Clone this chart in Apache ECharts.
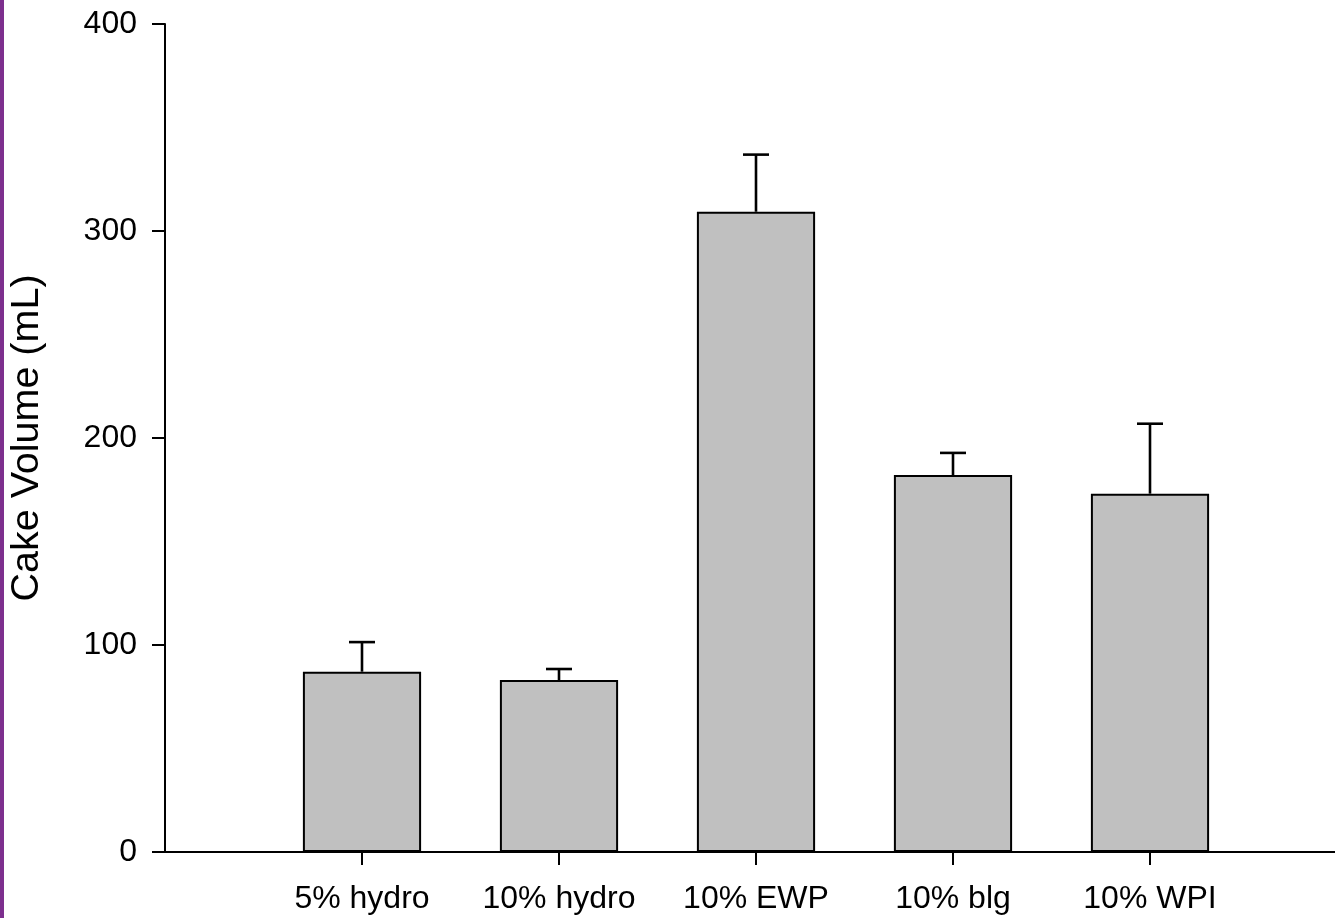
<!DOCTYPE html>
<html>
<head>
<meta charset="utf-8">
<script src="https://cdn.jsdelivr.net/npm/echarts@6/dist/echarts.min.js"></script>
<style>
html,body{margin:0;padding:0;background:#fff;}
#chart{width:1335px;height:918px;}
</style>
</head>
<body>
<div id="chart"></div>
<script>
const categories = ['5% hydro', '10% hydro', '10% EWP', '10% blg', '10% WPI'];
const means = [87.1, 83.1, 309.3, 182.1, 173.1];
const errors = [14.3, 5.3, 27.6, 10.7, 33.8];
const yTicks = [0, 100, 200, 300, 400];
const yTitle = 'Cake Volume (mL)';

// padded category list: empty slot at each end
const axisCats = [''].concat(categories, [' ']);
const barData = [null].concat(means, [null]);
const errData = categories.map((c, i) => [i + 1, means[i], means[i] + errors[i]]);

const font = 'Arial, "Liberation Sans", sans-serif';
const chart = echarts.init(document.getElementById('chart'), null, {renderer: 'canvas'});
chart.setOption({
  animation: false,
  backgroundColor: '#fff',
  graphic: [{
    type: 'rect', left: 0, top: 0, z: 100,
    shape: {x: 0, y: 0, width: 4, height: 918},
    style: {fill: '#7D2F8E'}
  }],
  grid: {left: 165, right: -12, top: 24, bottom: 66, containLabel: false, outerBoundsMode: 'none'},
  xAxis: {
    type: 'category',
    data: axisCats,
    boundaryGap: false,
    axisLine: {lineStyle: {color: '#000', width: 2}},
    axisTick: {
      length: 13, lineStyle: {color: '#000', width: 2},
      interval: function (idx, val) { return idx > 0 && idx < axisCats.length - 1; }
    },
    axisLabel: {color: '#000', fontSize: 32, fontFamily: font, margin: 31, interval: 0},
    splitLine: {show: false}
  },
  yAxis: {
    type: 'value',
    min: yTicks[0], max: yTicks[yTicks.length - 1], interval: 100,
    name: yTitle,
    nameLocation: 'middle',
    nameGap: 118,
    nameTextStyle: {color: '#000', fontSize: 39.5, fontFamily: font},
    axisLine: {show: true, lineStyle: {color: '#000', width: 2}},
    axisTick: {show: true, length: 13, lineStyle: {color: '#000', width: 2}},
    axisLabel: {color: '#000', fontSize: 32, fontFamily: font, margin: 28},
    splitLine: {show: false}
  },
  series: [{
    type: 'bar',
    data: barData,
    barWidth: '60%',
    itemStyle: {color: '#C0C0C0', borderColor: '#000', borderWidth: 2}
  }, {
    type: 'custom',
    data: errData,
    z: 5,
    renderItem: function (params, api) {
      const x = api.value(0);
      const lo = api.coord([x, api.value(1)]);
      const hi = api.coord([x, api.value(2)]);
      const half = 13;
      const st = {stroke: '#000', lineWidth: 2.6};
      return {
        type: 'group',
        children: [
          {type: 'line', shape: {x1: lo[0], y1: lo[1], x2: hi[0], y2: hi[1]}, style: st},
          {type: 'line', shape: {x1: hi[0] - half, y1: hi[1], x2: hi[0] + half, y2: hi[1]}, style: st}
        ]
      };
    }
  }]
});
</script>
</body>
</html>
